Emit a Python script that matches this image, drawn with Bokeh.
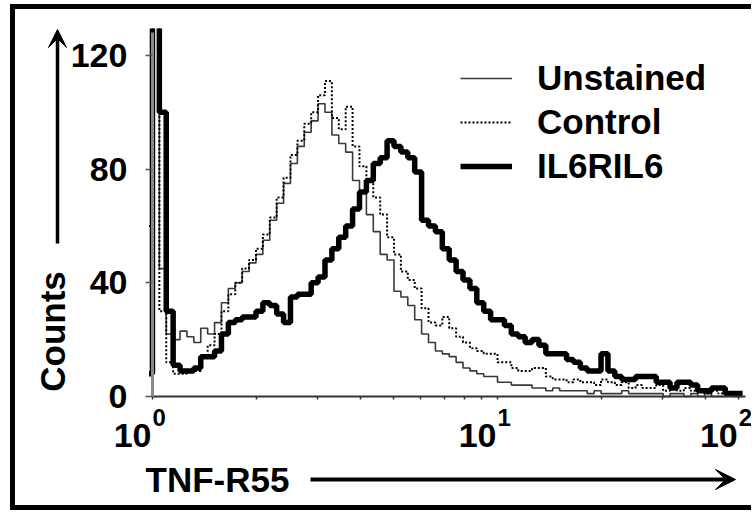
import numpy as np
from bokeh.plotting import figure
from bokeh.models import (Range1d, FixedTicker, Label, Arrow, VeeHead, Legend,
                          CustomJSTickFormatter)
from bokeh.embed import file_html
from bokeh.resources import INLINE

# ---- data: histogram channels, 1/50 decade each, first channel centred at 10^-0.01
first_log = -0.01
log_step = 0.02

unstained = [200, 200, 45, 22, 20, 23, 21, 19, 24, 22,
             26, 33, 38, 40, 44, 47, 50, 55, 62, 68,
             75, 82, 88, 93, 97, 103, 100, 92, 89, 86,
             76, 72, 64, 58, 50, 48, 37, 35, 32, 27,
             22, 19, 16, 15, 14, 12, 10, 9, 8, 7,
             7, 5, 5, 4, 4, 4, 3, 3, 2, 3,
             2, 2, 2, 2, 1, 2, 1, 1, 1, 2,
             1, 1, 1, 1, 1, 0, 1, 1, 0, 1,
             0, 1, 0, 0, 1, 0, 0]

control = [60, 200, 30, 12, 8, 8, 9, 9, 14, 18,
           22, 30, 36, 40, 45, 48, 52, 57, 63, 70,
           77, 85, 90, 96, 100, 106, 111, 98, 94, 102,
           88, 81, 76, 70, 64, 56, 50, 44, 41, 38,
           31, 26, 25, 28, 24, 21, 19, 17, 16, 15,
           15, 12, 12, 10, 9, 9, 10, 10, 7, 6,
           6, 5, 6, 5, 5, 4, 6, 5, 4, 5,
           3, 4, 3, 3, 4, 2, 3, 2, 3, 2,
           2, 1, 2, 1, 1, 1, 1]

il6ril6 = [8, 200, 100, 30, 11, 9, 9, 10, 14, 14,
           16, 22, 26, 27, 28, 28, 30, 33, 32, 29,
           26, 35, 36, 36, 40, 42, 48, 52, 56, 60,
           66, 72, 76, 82, 84, 90, 88, 86, 84, 79,
           62, 60, 58, 52, 48, 44, 41, 38, 33, 30,
           27, 27, 25, 22, 21, 19, 20, 18, 15, 15,
           15, 13, 12, 10, 9, 9, 15, 9, 7, 6,
           6, 7, 7, 7, 5, 5, 3, 5, 5, 4,
           2, 2, 3, 3, 1, 1, 1]

series_names = ["Unstained", "Control", "IL6RIL6"]
y_ticks = [0, 40, 80, 120]
x_major = [1, 10, 50]
x_major_base = ["10", "10", "10"]
x_major_exp = ["0", "1", "2"]
x_minor = [2, 3, 4, 5, 6, 7, 8, 9, 20, 30, 40]
x_title = "TNF-R55"
y_title = "Counts"

channels = 10 ** (first_log + log_step * np.arange(len(il6ril6)))

FONT = "Liberation Sans"

p = figure(width=741, height=506, x_axis_type="log",
           x_range=Range1d(0.401, 56.3), y_range=Range1d(-41.9, 129.5),
           output_backend="svg", toolbar_location=None,
           min_border_left=0, min_border_right=0,
           min_border_top=19, min_border_bottom=0)
p.margin = (4, 0, 0, 10)
p.styles = {"border-top": "5px solid black", "border-left": "5px solid black",
            "border-bottom": "5px solid black"}
p.outline_line_color = None
p.grid.visible = False
p.background_fill_color = "white"
p.border_fill_color = "white"

r_u = p.step(channels, unstained, mode="center", line_color="#3a3a3a", line_width=1.6)
r_c = p.step(channels, control, mode="center", line_color="black", line_width=2,
             line_dash="2 2")
r_i = p.step(channels, il6ril6, mode="center", line_color="black", line_width=5.5)

# y axis, drawn at x = 10^0
p.yaxis.fixed_location = 1
p.yaxis.bounds = (0, 128)
p.yaxis.ticker = FixedTicker(ticks=y_ticks)
p.yaxis.major_label_text_font = FONT
p.yaxis.major_label_text_font_size = "34px"
p.yaxis.major_label_text_font_style = "bold"
p.yaxis.major_label_text_color = "black"
p.yaxis.major_tick_out = 7
p.yaxis.major_tick_in = 0
p.yaxis.minor_tick_out = 0
p.yaxis.minor_tick_in = 0
p.yaxis.major_tick_line_color = "#555555"
p.yaxis.major_tick_line_width = 1.5
p.yaxis.axis_line_color = "#8a8a8a"
p.yaxis.axis_line_width = 3
p.yaxis.major_label_standoff = 18

# x axis, drawn at count 0
p.xaxis.fixed_location = 0
p.xaxis.bounds = (1, 52.4)
p.xaxis.ticker = FixedTicker(ticks=x_major, minor_ticks=x_minor)
p.xaxis.formatter = CustomJSTickFormatter(code="return ''")
p.xaxis.major_tick_out = 3
p.xaxis.major_tick_in = 0
p.xaxis.minor_tick_out = 3
p.xaxis.minor_tick_in = 0
p.xaxis.axis_line_color = "#333333"
p.xaxis.axis_line_width = 2
p.xaxis.major_tick_line_color = "#333333"
p.xaxis.minor_tick_line_color = "#333333"
p.xaxis.major_tick_line_width = 1.5
p.xaxis.minor_tick_line_width = 1.5

for xv, base, exp in zip(x_major, x_major_base, x_major_exp):
    p.add_layout(Label(x=xv, y=80, x_units="data", y_units="screen", text=base,
                       text_align="right", text_baseline="middle", x_offset=-1,
                       text_font=FONT, text_font_size="34px", text_font_style="bold",
                       text_color="black"))
    p.add_layout(Label(x=xv, y=98, x_units="data", y_units="screen", text=exp,
                       text_align="left", text_baseline="middle", x_offset=0,
                       text_font=FONT, text_font_size="24px", text_font_style="bold",
                       text_color="black"))

# axis titles with arrows
p.add_layout(Label(x=37, y=184, x_units="screen", y_units="screen", text=y_title,
                   angle=90, angle_units="deg", text_align="center", text_baseline="middle",
                   text_font=FONT, text_font_size="35px", text_font_style="bold",
                   text_color="black"))
p.add_layout(Label(x=130, y=36, x_units="screen", y_units="screen", text=x_title,
                   text_align="left", text_baseline="middle",
                   text_font=FONT, text_font_size="35px", text_font_style="bold",
                   text_color="black"))
p.add_layout(Arrow(x_start=42, y_start=272, x_end=42, y_end=486,
                   start_units="screen", end_units="screen", line_width=3.5,
                   line_color="black",
                   end=VeeHead(size=18, fill_color="black", line_color="black")))
p.add_layout(Arrow(x_start=295, y_start=36, x_end=720, y_end=36,
                   start_units="screen", end_units="screen", line_width=4,
                   line_color="black",
                   end=VeeHead(size=20, fill_color="black", line_color="black")))

legend = Legend(items=[(series_names[0], [r_u]), (series_names[1], [r_c]),
                       (series_names[2], [r_i])],
                location=(445, 329), orientation="vertical",
                glyph_width=52, glyph_height=40, label_height=40,
                label_standoff=25, spacing=4, padding=0, margin=0,
                border_line_color=None, background_fill_alpha=0,
                label_text_font=FONT, label_text_font_size="35px",
                label_text_font_style="bold", label_text_color="black")
p.add_layout(legend)

open("out.html", "w").write(file_html(p, INLINE))
